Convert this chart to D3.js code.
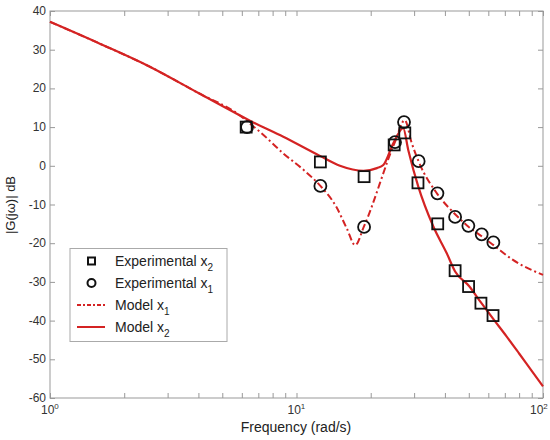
<!DOCTYPE html>
<html>
<head>
<meta charset="utf-8">
<script src="https://cdn.jsdelivr.net/npm/d3@7"></script>
<style>
body{margin:0;background:#fff}
svg{font-family:"Liberation Sans",Arial,sans-serif}
</style>
</head>
<body>
<svg width="550" height="440"></svg>
<script>
// measured points
const expFreqX2 = [6.25, 12.5, 18.8, 24.9, 27.5, 31.1, 37.4, 44, 49.9, 56, 62.7]
const expMagX2 = [10, 1, -2.8, 5.4, 8.5, -4.4, -15, -27.1, -31.2, -35.5, -38.7]
const expFreqX1 = [6.3, 12.5, 18.8, 25.1, 27.3, 31.3, 37.3, 44, 49.8, 56.4, 62.9]
const expMagX1 = [10, -5.2, -15.8, 6.1, 11.3, 1.2, -7.1, -13.2, -15.5, -17.7, -19.8]

// model curves
const modelFreqX2 = [1, 1.6, 2.54, 4, 5.9, 6.5, 8.84, 12.5, 15, 18.7, 21.2, 22.5, 24.7, 27.1, 28.4, 31.2, 35.9, 40.7, 44, 50, 56, 62.7, 71, 80, 90, 100]
const modelMagX2 = [37.2, 31.5, 25.6, 18.8, 13.0, 11.6, 7.5, 2.5, 0.0, -1.3, -0.6, 0.2, 5.8, 9.7, 4.1, -5.4, -15.7, -22.6, -27.3, -31, -35.3, -39.5, -44, -48.5, -53, -57]
const modelFreqX1 = [1, 1.6, 2.54, 4, 5.9, 6.5, 7.1, 8.84, 10.7, 12.5, 14.5, 16, 17.3, 18.8, 25.1, 27.5, 29.3, 31.3, 37.3, 44, 50, 56.4, 63, 75, 100]
const modelMagX1 = [37.2, 31.5, 25.6, 18.8, 13.0, 10.8, 8.8, 3.2, -1.1, -5.2, -10.6, -16.2, -20.5, -15.6, 6.2, 11.8, 6, 1.1, -7.3, -12.5, -15.8, -18.2, -20.5, -24.2, -28.2]

const yTicks = [40, 30, 20, 10, 0, -10, -20, -30, -40, -50, -60]
const xMajor = [1, 10, 100]
const xMinor = [2, 3, 4, 5, 6, 7, 8, 9, 20, 30, 40, 50, 60, 70, 80, 90]

const red = "#d42323"
const svg = d3.select("svg")

const plotLeft = 50, plotRight = 543, plotTop = 11, plotBottom = 398

const scaleX = d3.scaleLog()
    .domain([1, 100])
    .range([plotLeft, plotRight])
const scaleY = d3.scaleLinear()
    .domain([-60, 40])
    .range([plotBottom, plotTop])

// frame
svg.append("rect")
    .attr("x", plotLeft)
    .attr("y", plotTop)
    .attr("width", plotRight - plotLeft)
    .attr("height", plotBottom - plotTop)
    .attr("fill", "none")
    .attr("stroke", "#999")

const tickStyle = g => {
    g.select(".domain").remove()
    g.selectAll(".tick line").attr("stroke", "#999")
}

const xTickVals = xMajor.concat(xMinor)
svg.append("g")
    .attr("transform", `translate(0,${plotBottom})`)
    .call(d3.axisBottom(scaleX).tickValues(xTickVals).tickSize(-5).tickFormat(""))
    .call(tickStyle)
svg.append("g")
    .attr("transform", `translate(0,${plotTop})`)
    .call(d3.axisTop(scaleX).tickValues(xTickVals).tickSize(-5).tickFormat(""))
    .call(tickStyle)
svg.append("g")
    .attr("transform", `translate(${plotLeft},0)`)
    .call(d3.axisLeft(scaleY).tickValues(yTicks).tickSize(-5).tickFormat(""))
    .call(tickStyle)
svg.append("g")
    .attr("transform", `translate(${plotRight},0)`)
    .call(d3.axisRight(scaleY).tickValues(yTicks).tickSize(-5).tickFormat(""))
    .call(tickStyle)

// y tick labels
svg.append("g")
    .selectAll("text")
    .data(yTicks)
    .join("text")
    .attr("x", plotLeft - 4)
    .attr("y", d => scaleY(d) + 4)
    .attr("text-anchor", "end")
    .attr("font-size", 12)
    .attr("fill", "#333")
    .text(d => d)

// x tick labels, 10^n (last one pulled in so it stays on the page)
const xLab = svg.append("g")
    .selectAll("text")
    .data(xMajor)
    .join("text")
    .attr("x", d => d == 100 ? 530 : scaleX(d) - 9)
    .attr("y", plotBottom + 16)
    .attr("font-size", 12)
    .attr("fill", "#333")
xLab.append("tspan").text("10")
xLab.append("tspan")
    .attr("dy", -5)
    .attr("font-size", 8)
    .text(d => Math.round(Math.log10(d)))

svg.append("text")
    .attr("x", 296)
    .attr("y", 432)
    .attr("text-anchor", "middle")
    .attr("font-size", 14)
    .attr("fill", "#222")
    .text("Frequency (rad/s)")

svg.append("text")
    .attr("transform", "translate(15,205) rotate(-90)")
    .attr("text-anchor", "middle")
    .attr("font-size", 13)
    .attr("fill", "#222")
    .text("|G(jω)| dB")

// model lines
const lineGen = d3.line()
    .x(d => scaleX(d[0]))
    .y(d => scaleY(d[1]))
    .curve(d3.curveMonotoneX)

svg.append("path")
    .datum(d3.zip(modelFreqX1, modelMagX1))
    .attr("d", lineGen)
    .attr("fill", "none")
    .attr("stroke", red)
    .attr("stroke-width", 2)
    .attr("stroke-dasharray", "7,3,2,3")

svg.append("path")
    .datum(d3.zip(modelFreqX2, modelMagX2))
    .attr("d", lineGen)
    .attr("fill", "none")
    .attr("stroke", red)
    .attr("stroke-width", 2.2)

// experimental markers
svg.append("g")
    .selectAll("rect")
    .data(d3.zip(expFreqX2, expMagX2))
    .join("rect")
    .attr("x", d => scaleX(d[0]) - 5.5)
    .attr("y", d => scaleY(d[1]) - 5.5)
    .attr("width", 11)
    .attr("height", 11)
    .attr("fill", "none")
    .attr("stroke", "#111")
    .attr("stroke-width", 1.8)

svg.append("g")
    .selectAll("circle")
    .data(d3.zip(expFreqX1, expMagX1))
    .join("circle")
    .attr("cx", d => scaleX(d[0]))
    .attr("cy", d => scaleY(d[1]))
    .attr("r", 6)
    .attr("fill", "none")
    .attr("stroke", "#111")
    .attr("stroke-width", 1.8)

// legend
const legend = svg.append("g")
legend.append("rect")
    .attr("x", 70)
    .attr("y", 248.5)
    .attr("width", 157)
    .attr("height", 93)
    .attr("fill", "#fff")
    .attr("stroke", "#aaa")

const legendItems = [
    {label: "Experimental x", sub: "2", kind: "square"},
    {label: "Experimental x", sub: "1", kind: "circle"},
    {label: "Model x", sub: "1", kind: "dash"},
    {label: "Model x", sub: "2", kind: "solid"}
]

const rows = legend.selectAll("g.item")
    .data(legendItems)
    .join("g")
    .attr("class", "item")
    .attr("transform", (d, i) => `translate(0,${261 + i * 22})`)

rows.filter(d => d.kind == "square")
    .append("rect")
    .attr("x", 88)
    .attr("y", -3.5)
    .attr("width", 7)
    .attr("height", 7)
    .attr("fill", "none")
    .attr("stroke", "#111")
    .attr("stroke-width", 2)
rows.filter(d => d.kind == "circle")
    .append("circle")
    .attr("cx", 91.5)
    .attr("cy", 0)
    .attr("r", 4)
    .attr("fill", "none")
    .attr("stroke", "#111")
    .attr("stroke-width", 2)
rows.filter(d => d.kind == "dash" || d.kind == "solid")
    .append("line")
    .attr("x1", 77)
    .attr("x2", 105)
    .attr("stroke", red)
    .attr("stroke-width", 2)
    .attr("stroke-dasharray", d => d.kind == "dash" ? "4,2,2,2" : null)

const rowText = rows.append("text")
    .attr("x", 115)
    .attr("y", 5)
    .attr("font-size", 14)
    .attr("fill", "#222")
rowText.append("tspan").text(d => d.label)
rowText.append("tspan")
    .attr("dy", 5)
    .attr("font-size", 10)
    .text(d => d.sub)
</script>
</body>
</html>
